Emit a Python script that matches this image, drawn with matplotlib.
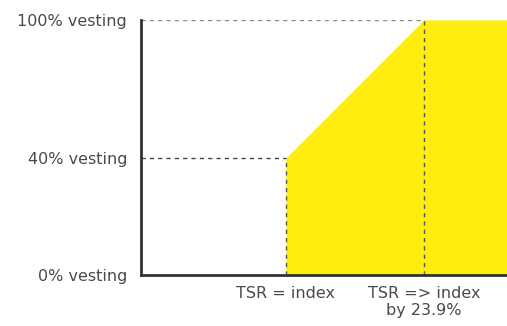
import numpy as np
import matplotlib
matplotlib.use("Agg")
import matplotlib.pyplot as plt

# Vesting schedule: TSR outperformance vs index (percentage points) -> vesting level (%)
tsr_points = [0.0, 23.9]
vesting_points = [40, 100]
y_ticks = [0, 40, 100]
y_tick_labels = ["0% vesting", "40% vesting", "100% vesting"]
x_tick_labels = ["TSR = index", "TSR => index\nby 23.9%"]

# the vertical axis is drawn with a wider band for 0-40% than for 40-100%
y_anchor = [0, 40, 100]
y_pos = [0, 0.459, 1.0]


def fwd(v):
    return np.interp(v, y_anchor, y_pos)


def inv(v):
    return np.interp(v, y_pos, y_anchor)


plt.rcParams['font.family'] = ['DejaVu Sans']

fig = plt.figure(figsize=(5.07, 3.26), dpi=100)
ax = fig.add_axes([0.278, 0.156, 0.722, 0.783])
ax.set_yscale('function', functions=(fwd, inv))

x_left, x_right = -25.1, 38.3
ax.set_xlim(x_left, x_right)
ax.set_ylim(0, 100)

yellow = '#FFED10'
fill_x = [tsr_points[0], tsr_points[0], tsr_points[1], x_right]
fill_y = [0, vesting_points[0], vesting_points[1], vesting_points[1]]
ax.fill_between(fill_x, 0, fill_y, color=yellow, linewidth=0, zorder=1)

dash = dict(linestyle=(0, (3, 3)), linewidth=1.0, zorder=2)
ax.plot([x_left, tsr_points[1]], [100, 100], color='#8a8a8a', **dash)
ax.plot([x_left, tsr_points[0]], [40, 40], color='#444444', **dash)
ax.plot([tsr_points[0], tsr_points[0]], [0, 40], color='#555555', **dash)
ax.plot([tsr_points[1], tsr_points[1]], [0, 100], color='#555555', **dash)

for side in ['top', 'right']:
    ax.spines[side].set_visible(False)
for side in ['left', 'bottom']:
    ax.spines[side].set_color('#2d3338')
    ax.spines[side].set_linewidth(2)
    ax.spines[side].set_zorder(3)

ax.set_yticks(y_ticks)
ax.set_yticklabels(y_tick_labels)
ax.yaxis.set_minor_locator(matplotlib.ticker.NullLocator())
ax.set_xticks(tsr_points)
ax.set_xticklabels(x_tick_labels, linespacing=1.15)
ax.tick_params(axis='both', length=0, labelsize=11.5, labelcolor='#464b50')
ax.tick_params(axis='y', pad=10)
ax.tick_params(axis='x', pad=8)

fig.savefig('out.png', dpi=100)
